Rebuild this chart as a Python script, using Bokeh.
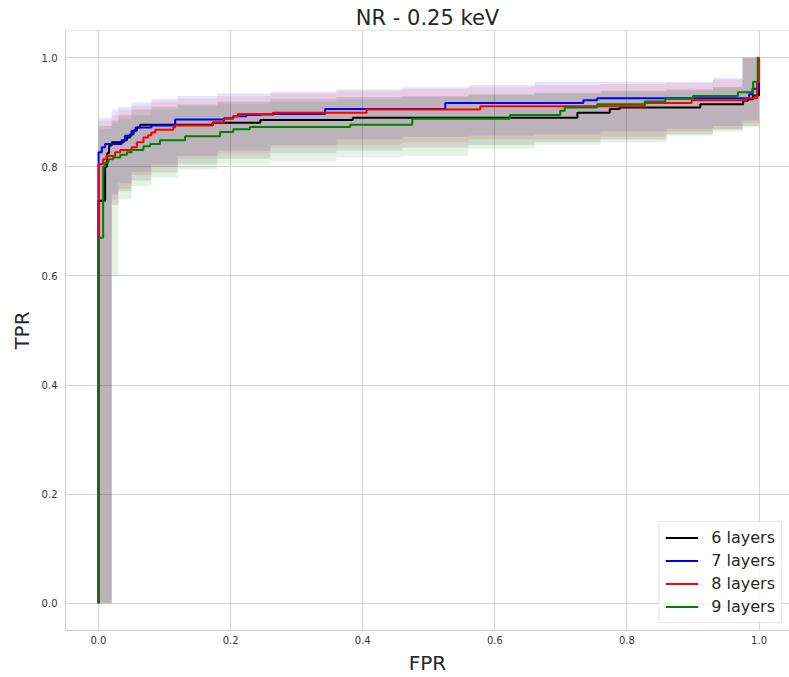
from bokeh.plotting import figure
from bokeh.models import Legend, LegendItem, Span, PrintfTickFormatter, FixedTicker
from bokeh.embed import file_html
from bokeh.resources import INLINE

TITLE = "NR - 0.25 keV"
X_LABEL = "FPR"
Y_LABEL = "TPR"
SERIES = ["6 layers", "7 layers", "8 layers", "9 layers"]
COLORS = ["#000000", "#0000ff", "#ff0000", "#008000"]
TICKS = [0.0, 0.2, 0.4, 0.6, 0.8, 1.0]

# ROC curves (step "after": at each fpr the tpr becomes the listed value)
fpr_6 = [0.0, 0.0, 0.01, 0.013, 0.016, 0.02, 0.038, 0.043, 0.048, 0.053, 0.058, 0.063,
         0.173, 0.245, 0.385, 0.725, 0.774, 0.789, 0.911, 0.976, 0.983, 0.991, 1.0]
tpr_6 = [0.0, 0.738, 0.80, 0.825, 0.839, 0.845, 0.849, 0.854, 0.86, 0.866, 0.872, 0.877,
         0.881, 0.886, 0.89, 0.899, 0.906, 0.909, 0.915, 0.921, 0.924, 0.931, 1.0]

fpr_7 = [0.0, 0.0, 0.005, 0.01, 0.035, 0.04, 0.05, 0.056, 0.08, 0.116, 0.19, 0.204,
         0.224, 0.245, 0.265, 0.343, 0.525, 0.734, 0.755, 0.985, 0.99, 1.0]
tpr_7 = [0.0, 0.827, 0.836, 0.842, 0.849, 0.857, 0.866, 0.872, 0.876, 0.887, 0.889, 0.893,
         0.895, 0.896, 0.897, 0.906, 0.917, 0.922, 0.926, 0.933, 0.943, 1.0]

fpr_8 = [0.0, 0.0, 0.007, 0.012, 0.025, 0.033, 0.05, 0.058, 0.068, 0.075, 0.08, 0.086,
         0.113, 0.116, 0.173, 0.19, 0.204, 0.211, 0.264, 0.406, 0.578, 0.827, 0.898,
         0.981, 0.997, 1.0]
tpr_8 = [0.0, 0.805, 0.814, 0.82, 0.827, 0.831, 0.836, 0.845, 0.854, 0.858, 0.863, 0.868,
         0.872, 0.876, 0.882, 0.888, 0.893, 0.897, 0.899, 0.905, 0.911, 0.917, 0.922,
         0.926, 0.955, 1.0]

fpr_9 = [0.0, 0.0, 0.007, 0.01, 0.015, 0.022, 0.033, 0.043, 0.05, 0.068, 0.078, 0.093,
         0.131, 0.184, 0.204, 0.229, 0.381, 0.475, 0.623, 0.699, 0.706, 0.755, 0.827,
         0.858, 0.9, 0.968, 0.991, 0.998, 1.0]
tpr_9 = [0.0, 0.67, 0.80, 0.808, 0.814, 0.817, 0.822, 0.827, 0.831, 0.838, 0.842, 0.849,
         0.856, 0.864, 0.869, 0.873, 0.877, 0.888, 0.895, 0.903, 0.909, 0.915, 0.92,
         0.925, 0.93, 0.937, 0.956, 1.0, 1.0]

# Shaded bands (lower / upper), step "after" on a shared fpr grid
BAND_FPR = [0.0, 0.02, 0.03, 0.05, 0.08, 0.12, 0.18, 0.26, 0.36, 0.46, 0.56, 0.66,
            0.76, 0.86, 0.93, 0.975, 1.0]
low_6 = [0.0, 0.73, 0.755, 0.775, 0.79, 0.805, 0.815, 0.825, 0.83, 0.835, 0.84, 0.845,
         0.85, 0.86, 0.868, 0.875, 0.875]
up_6 = [0.875, 0.885, 0.895, 0.905, 0.91, 0.915, 0.92, 0.925, 0.928, 0.93, 0.933, 0.936,
        0.94, 0.942, 0.946, 1.0, 1.0]
low_7 = [0.0, 0.75, 0.77, 0.79, 0.805, 0.82, 0.83, 0.84, 0.85, 0.855, 0.857, 0.86,
         0.865, 0.87, 0.875, 0.885, 0.885]
up_7 = [0.89, 0.905, 0.91, 0.918, 0.925, 0.93, 0.935, 0.938, 0.942, 0.946, 0.95, 0.956,
        0.956, 0.956, 0.963, 1.0, 1.0]
low_8 = [0.0, 0.74, 0.76, 0.785, 0.80, 0.815, 0.825, 0.835, 0.84, 0.845, 0.85, 0.85,
         0.855, 0.865, 0.87, 0.88, 0.88]
up_8 = [0.885, 0.895, 0.905, 0.912, 0.92, 0.925, 0.93, 0.935, 0.94, 0.943, 0.946, 0.95,
        0.952, 0.954, 0.96, 1.0, 1.0]
low_9 = [0.0, 0.60, 0.74, 0.765, 0.78, 0.795, 0.805, 0.81, 0.817, 0.82, 0.833, 0.84,
         0.845, 0.857, 0.865, 0.872, 0.872]
up_9 = [0.87, 0.88, 0.888, 0.895, 0.906, 0.912, 0.916, 0.92, 0.925, 0.928, 0.932, 0.934,
        0.938, 0.94, 0.946, 1.0, 1.0]

curves = [(fpr_6, tpr_6), (fpr_7, tpr_7), (fpr_8, tpr_8), (fpr_9, tpr_9)]
bands = [(low_6, up_6), (low_7, up_7), (low_8, up_8), (low_9, up_9)]

FONT = "DejaVu Sans"
TEXT = "#262626"
GRID = "#d4d4d4"

p = figure(width=789, height=677, x_range=(-0.05, 1.0461), y_range=(-0.05, 1.05),
           output_backend="svg", toolbar_location=None, title=TITLE,
           min_border_left=65, min_border_right=0, min_border_top=30, min_border_bottom=45)
p.title.align = "center"
p.title.text_font = FONT
p.title.text_font_size = "21px"
p.title.text_font_style = "normal"
p.title.text_color = TEXT
p.title.standoff = 2

p.outline_line_color = None
p.background_fill_color = "white"

for ax, lab in ((p.xaxis, X_LABEL), (p.yaxis, Y_LABEL)):
    ax.ticker = FixedTicker(ticks=TICKS)
    ax.formatter = PrintfTickFormatter(format="%.1f")
    ax.axis_label = lab
    ax.axis_label_text_font = FONT
    ax.axis_label_text_font_size = "20px"
    ax.axis_label_text_font_style = "normal"
    ax.axis_label_text_color = TEXT
    ax.major_label_text_font = FONT
    ax.major_label_text_font_size = "10px"
    ax.major_label_text_color = "#333333"
    ax.major_tick_line_color = None
    ax.minor_tick_line_color = None
    ax.major_tick_out = 0
    ax.minor_tick_out = 0
    ax.axis_line_color = "#cccccc"

p.xaxis.major_label_standoff = 5
p.xaxis.axis_label_standoff = 4
p.yaxis.major_label_standoff = 8
p.yaxis.axis_label_standoff = 5

p.xgrid.grid_line_color = GRID
p.ygrid.grid_line_color = GRID

p.add_layout(Span(location=1.05, dimension="width", line_color="#cccccc", line_width=1))

for (lo, up), c in zip(bands, COLORS):
    p.varea_step(x=BAND_FPR, y1=lo, y2=up, step_mode="after", fill_color=c, fill_alpha=0.1)

items = []
for (fx, ty), c, name in zip(curves, COLORS, SERIES):
    r = p.step(x=fx, y=ty, mode="after", line_color=c, line_width=2)
    items.append(LegendItem(label=name, renderers=[r]))

legend = Legend(items=items, location="bottom_right")
legend.label_text_font = FONT
legend.label_text_font_size = "16px"
legend.label_text_color = TEXT
legend.glyph_width = 33
legend.glyph_height = 19
legend.label_height = 19
legend.label_standoff = 13
legend.spacing = 4
legend.padding = 6
legend.margin = 7
legend.border_line_color = "#cccccc"
legend.background_fill_alpha = 0.8
p.add_layout(legend)

open("out.html", "w").write(file_html(p, INLINE))
